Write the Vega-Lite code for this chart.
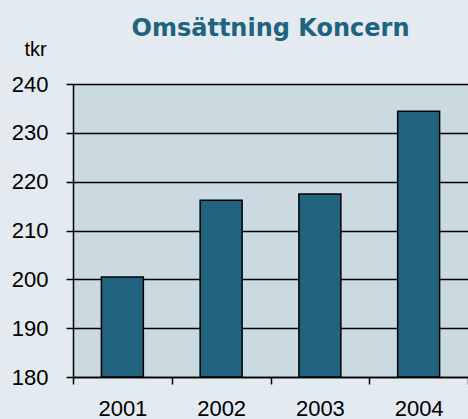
{
  "$schema": "https://vega.github.io/schema/vega-lite/v6.json",
  "width": 395,
  "height": 293,
  "autosize": {"type": "none"},
  "padding": {"left": 73, "top": 84, "right": 0, "bottom": 42},
  "background": "#e3eaf0",
  "title": {
    "text": "Omsättning Koncern",
    "font": "DejaVu Sans",
    "fontSize": 24,
    "fontWeight": "bold",
    "color": "#21637e",
    "anchor": "middle",
    "frame": "group",
    "baseline": "alphabetic",
    "offset": 10,
    "dy": 31
  },
  "config": {
    "view": {"fill": "#cbd9e1", "stroke": null},
    "axis": {
      "labelFont": "Liberation Sans",
      "labelFontSize": 22,
      "labelColor": "#000000",
      "domainColor": "#000000",
      "domainWidth": 1.5,
      "tickColor": "#000000",
      "tickWidth": 1.5,
      "tickSize": 7
    }
  },
  "data": {
    "values": [
      {"year": "2001", "value": 200.5},
      {"year": "2002", "value": 216.2},
      {"year": "2003", "value": 217.5},
      {"year": "2004", "value": 234.4}
    ]
  },
  "mark": {"type": "bar", "fill": "#21637e", "stroke": "#000000", "strokeWidth": 1.5, "width": {"band": 0.425}},
  "encoding": {
    "x": {
      "field": "year",
      "type": "nominal",
      "scale": {"paddingInner": 0, "paddingOuter": 0},
      "axis": {
        "title": null,
        "labelAngle": 0,
        "tickBand": "extent",
        "grid": false,
        "labelBaseline": "alphabetic",
        "labelPadding": 31
      }
    },
    "y": {
      "field": "value",
      "type": "quantitative",
      "scale": {"domain": [180, 240], "nice": false, "zero": false},
      "axis": {
        "values": [180, 190, 200, 210, 220, 230, 240],
        "grid": true,
        "gridColor": "#000000",
        "gridWidth": 1.5,
        "gridOpacity": 1,
        "labelPadding": 18,
        "title": "tkr",
        "titleFont": "Liberation Sans",
        "titleFontSize": 20,
        "titleFontWeight": "normal",
        "titleColor": "#000000",
        "titleAngle": 0,
        "titleAlign": "center",
        "titleBaseline": "alphabetic",
        "titleX": -38,
        "titleY": -29
      }
    },
    "y2": {"datum": 180}
  }
}
